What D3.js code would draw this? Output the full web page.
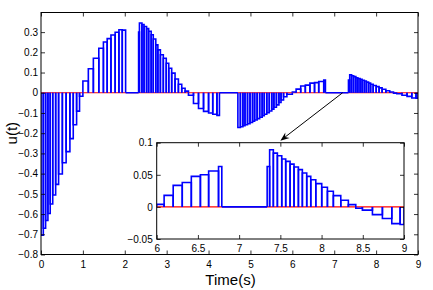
<!DOCTYPE html>
<html lang="en">
<head>
<meta charset="UTF-8">
<title>u(t) event-triggered input</title>
<script src="https://d3js.org/d3.v7.min.js"></script>
<style>
  body { margin: 0; background: #fff; }
  svg text { font-family: "Liberation Sans", Arial, Helvetica, sans-serif; fill: #000; }
</style>
</head>
<body>
<div id="chart"></div>
<script>
// event times (start of each hold interval) and held input values
const eventTimes = [
  0, 0.055, 0.11, 0.165, 0.22, 0.28, 0.35, 0.42, 0.51, 0.60, 0.69, 0.77, 0.85, 0.92,
  1.00, 1.13, 1.25, 1.38, 1.49, 1.58, 1.67, 1.77, 1.86, 1.94, 2.02,
  2.33, 2.35, 2.41, 2.46, 2.52, 2.57, 2.63, 2.68, 2.74, 2.79, 2.85, 2.92, 2.99, 3.05, 3.12, 3.20, 3.28, 3.36, 3.44,
  3.52, 3.64, 3.76, 3.88, 4.00, 4.10, 4.20, 4.26,
  4.70, 4.76, 4.82, 4.87, 4.93, 4.99, 5.05, 5.10, 5.16, 5.22, 5.28, 5.33, 5.39, 5.45, 5.51, 5.56, 5.62, 5.68, 5.73, 5.79, 5.87,
  6.00, 6.09, 6.20, 6.31, 6.42, 6.53, 6.63, 6.75, 6.79,
  7.34, 7.37, 7.415, 7.464, 7.517, 7.565, 7.618, 7.666, 7.719, 7.767, 7.82, 7.869, 7.93, 8.002, 8.071, 8.143, 8.233, 8.325,
  8.415, 8.495, 8.617, 8.738, 8.852, 8.953
];
const uValues = [
  -0.705, -0.670, -0.632, -0.597, -0.550, -0.506, -0.453, -0.402, -0.346, -0.291, -0.227, -0.158, -0.091, -0.017,
  0.058, 0.119, 0.171, 0.220, 0.251, 0.268, 0.286, 0.299, 0.312, 0.310, 0,
  0.300, 0.345, 0.337, 0.328, 0.317, 0.304, 0.287, 0.266, 0.237, 0.212, 0.188, 0.171, 0.146, 0.121, 0.097, 0.068, 0.042, 0.022, 0.008,
  -0.012, -0.053, -0.078, -0.092, -0.100, -0.106, -0.112, 0,
  -0.172, -0.168, -0.163, -0.158, -0.153, -0.147, -0.141, -0.135, -0.128, -0.121, -0.114, -0.106, -0.098, -0.090, -0.081, -0.072, -0.060, -0.048, -0.036, -0.020, -0.007,
  0.004, 0.018, 0.0335, 0.038, 0.0475, 0.050, 0.056, 0.063, 0,
  0.063, 0.089, 0.0838, 0.0797, 0.0745, 0.0709, 0.0667, 0.0621, 0.058, 0.0528, 0.0476, 0.0424, 0.0362, 0.0305, 0.0243, 0.0176, 0.0103, 0.0036,
  -0.002, -0.005, -0.012, -0.018, -0.026, -0.0275
];
const endTime = 9;

const xTicks = [0, 1, 2, 3, 4, 5, 6, 7, 8, 9];
const yTicks = [-0.8, -0.7, -0.6, -0.5, -0.4, -0.3, -0.2, -0.1, 0, 0.1, 0.2, 0.3];
const insetXTicks = [6, 6.5, 7, 7.5, 8, 8.5, 9];
const insetYTicks = [-0.05, 0, 0.05, 0.1];

const segments = eventTimes.map((t, i) => ({
  t0: t,
  t1: i < eventTimes.length - 1 ? eventTimes[i + 1] : endTime,
  u: uValues[i]
}));

const W = 433, H = 290;
const svg = d3.select("#chart").append("svg")
  .attr("width", W).attr("height", H);

// main axes
const x = d3.scaleLinear().domain([0, 9]).range([41, 418]);
const y = d3.scaleLinear().domain([-0.8, 0.397]).range([254.5, 12.5]);

// inset axes
const ix = d3.scaleLinear().domain([6, 9]).range([156.7, 404]);
const iy = d3.scaleLinear().domain([-0.05, 0.1]).range([239, 142.7]);

const defs = svg.append("defs");
defs.append("clipPath").attr("id", "clipMain").append("rect")
  .attr("x", x(0)).attr("y", y(0.397))
  .attr("width", x(9) - x(0)).attr("height", y(-0.8) - y(0.397));
defs.append("clipPath").attr("id", "clipInset").append("rect")
  .attr("x", ix(6)).attr("y", iy(0.1))
  .attr("width", ix(9) - ix(6)).attr("height", iy(-0.05) - iy(0.1));

function drawSignal(g, sx, sy, clipId) {
  const [d0, d1] = sx.domain();
  const plot = g.append("g").attr("clip-path", `url(#${clipId})`);
  plot.append("line")
    .attr("x1", sx(d0)).attr("x2", sx(d1))
    .attr("y1", sy(0)).attr("y2", sy(0))
    .attr("stroke", "#ff0000").attr("stroke-width", 1.1);
  plot.selectAll("path.bar")
    .data(segments.filter(s => s.t1 > d0 && s.t0 < d1))
    .join("path")
    .attr("class", "bar")
    .attr("d", s => `M${sx(s.t0)},${sy(0)}V${sy(s.u)}H${sx(s.t1)}V${sy(0)}`)
    .attr("fill", "none")
    .attr("stroke", "#0000ff")
    .attr("stroke-width", 1.6);
}

function drawBox(g, sx, sy, xt, yt, xfmt, yfmt, xPad, yPad) {
  const [x0, x1] = sx.range();
  const [y0, y1] = sy.range();
  g.append("g").attr("transform", `translate(0,${y0})`)
    .call(d3.axisBottom(sx).tickValues(xt).tickSize(-4).tickPadding(xPad).tickFormat(xfmt))
    .call(a => a.select(".domain").remove());
  g.append("g").attr("transform", `translate(0,${y1})`)
    .call(d3.axisTop(sx).tickValues(xt).tickSize(-4).tickFormat(""))
    .call(a => a.select(".domain").remove());
  g.append("g").attr("transform", `translate(${x0},0)`)
    .call(d3.axisLeft(sy).tickValues(yt).tickSize(-4).tickPadding(yPad).tickFormat(yfmt))
    .call(a => a.select(".domain").remove());
  g.append("g").attr("transform", `translate(${x1},0)`)
    .call(d3.axisRight(sy).tickValues(yt).tickSize(-4).tickFormat(""))
    .call(a => a.select(".domain").remove());
  g.selectAll(".tick line").attr("stroke", "#000").attr("stroke-width", 0.8);
  g.selectAll(".tick text").attr("font-size", "10px").attr("fill", "#000");
  g.append("rect")
    .attr("x", x0).attr("y", y1).attr("width", x1 - x0).attr("height", y0 - y1)
    .attr("fill", "none").attr("stroke", "#000").attr("stroke-width", 1);
}

// main plot
const main = svg.append("g");
drawSignal(main, x, y, "clipMain");
drawBox(main, x, y, xTicks, yTicks, d3.format("d"), d => d3.format("")(+d.toFixed(1)), 6, 3);

// axis labels
svg.append("text")
  .attr("x", (x(0) + x(9)) / 2 + 1).attr("y", 284.5)
  .attr("text-anchor", "middle").attr("font-size", "15px")
  .text("Time(s)");
svg.append("text")
  .attr("transform", `translate(17,${y(-0.2)}) rotate(-90)`)
  .attr("text-anchor", "middle").attr("font-size", "15px")
  .text("u(t)");

// inset
const inset = svg.append("g");
inset.append("rect")
  .attr("x", ix(6)).attr("y", iy(0.1))
  .attr("width", ix(9) - ix(6)).attr("height", iy(-0.05) - iy(0.1))
  .attr("fill", "#fff");
drawSignal(inset, ix, iy, "clipInset");
drawBox(inset, ix, iy, insetXTicks, insetYTicks, d => d3.format("")(d), d => d3.format("")(d), 6, 4);

// arrow from the main trace to the inset
const p0 = [x(7.2), y(0)];
const p1 = [ix(7.5), iy(0.1) - 2];
const ang = Math.atan2(p1[1] - p0[1], p1[0] - p0[0]);
const hl = 9, hw = 3.5;
const bx = p1[0] - hl * Math.cos(ang), by = p1[1] - hl * Math.sin(ang);
const nx = -Math.sin(ang), ny = Math.cos(ang);
svg.append("line")
  .attr("x1", p0[0]).attr("y1", p0[1])
  .attr("x2", bx + 3 * Math.cos(ang)).attr("y2", by + 3 * Math.sin(ang))
  .attr("stroke", "#000").attr("stroke-width", 1);
svg.append("path")
  .attr("d", `M${p1[0]},${p1[1]}L${bx + hw * nx},${by + hw * ny}L${bx + 3 * Math.cos(ang)},${by + 3 * Math.sin(ang)}L${bx - hw * nx},${by - hw * ny}Z`)
  .attr("fill", "#000");
</script>
</body>
</html>
